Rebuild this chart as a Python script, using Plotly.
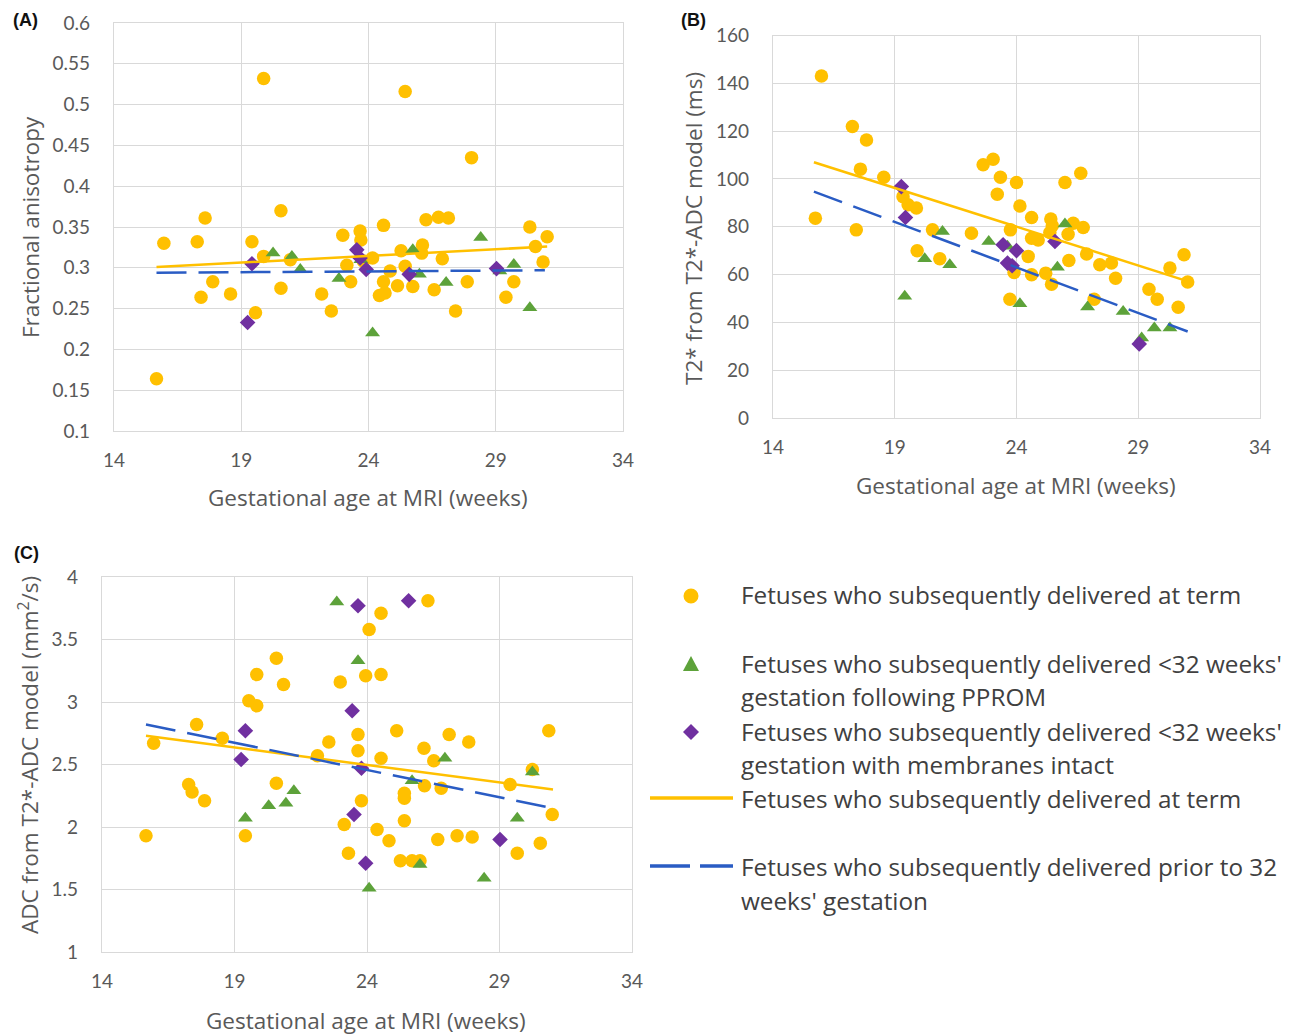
import plotly.graph_objects as go

W, H = 1295, 1035

# ---------------- Data ----------------
week_ticks = [14, 19, 24, 29, 34]
week_labels = ["14", "19", "24", "29", "34"]

# Panel A: fractional anisotropy
fa_term_x = [19.88, 25.44, 28.05, 20.56, 17.58, 24.59, 26.26, 26.75, 27.14, 30.34, 31.02, 30.56, 30.86, 15.96, 17.27,
             19.42, 19.88, 20.93, 22.99, 23.67, 23.70, 24.16, 23.15, 23.30, 23.80, 25.28, 26.12, 26.09, 25.44, 24.85,
             24.59, 24.43, 24.65, 25.14, 25.74, 26.58, 26.90, 27.88, 27.42, 29.71, 29.40, 17.88, 17.42, 18.58, 20.56,
             19.56, 22.16, 22.54, 15.67]
fa_term_y = [0.532, 0.516, 0.435, 0.370, 0.361, 0.352, 0.359, 0.362, 0.361, 0.350, 0.338, 0.326, 0.307, 0.330, 0.332,
             0.332, 0.314, 0.310, 0.340, 0.345, 0.334, 0.312, 0.303, 0.283, 0.308, 0.321, 0.328, 0.318, 0.302, 0.296,
             0.283, 0.266, 0.269, 0.278, 0.277, 0.273, 0.311, 0.283, 0.247, 0.283, 0.264, 0.283, 0.264, 0.268, 0.275,
             0.245, 0.268, 0.247, 0.164]
fa_pprom_x = [20.25, 20.99, 21.32, 22.84, 23.70, 25.74, 26.00, 27.05, 28.41, 29.71, 29.16, 30.34, 24.16]
fa_pprom_y = [0.318, 0.314, 0.298, 0.287, 0.310, 0.322, 0.292, 0.282, 0.337, 0.304, 0.296, 0.251, 0.220]
fa_intact_x = [19.42, 19.25, 23.54, 23.67, 23.91, 25.60, 29.03]
fa_intact_y = [0.305, 0.233, 0.322, 0.312, 0.298, 0.292, 0.299]
fa_trend_term_x = [15.67, 31.02]
fa_trend_term_y = [0.301, 0.326]
fa_trend_pre_x = [15.67, 30.93]
fa_trend_pre_y = [0.294, 0.297]
fa_ticks = [0.1, 0.15, 0.2, 0.25, 0.3, 0.35, 0.4, 0.45, 0.5, 0.55, 0.6]
fa_tick_labels = ["0.1", "0.15", "0.2", "0.25", "0.3", "0.35", "0.4", "0.45", "0.5", "0.55", "0.6"]

# Panel B: T2*
t2_term_x = [15.99, 17.26, 17.84, 17.59, 18.55, 15.74, 17.42, 19.34, 19.55, 19.89, 20.55, 22.15, 19.92, 20.85, 22.63,
             23.04, 23.34, 23.21, 24.00, 24.14, 24.62, 23.75, 25.41, 25.47, 25.37, 24.62, 24.89, 25.99, 26.64, 26.33,
             26.74, 26.12, 24.48, 23.90, 24.62, 25.20, 25.44, 26.15, 26.88, 27.42, 27.90, 28.07, 23.73, 27.19, 29.44,
             29.78, 30.30, 30.88, 31.03, 30.64]
t2_term_y = [143.1, 121.9, 116.3, 104.1, 100.7, 83.6, 78.7, 92.6, 89.2, 87.8, 78.7, 77.3, 70.0, 66.6, 105.9,
             108.2, 100.7, 93.6, 98.5, 88.7, 83.9, 78.7, 83.2, 80.4, 77.6, 75.2, 74.5, 98.5, 102.4, 81.5,
             79.7, 76.9, 67.6, 60.9, 59.9, 60.6, 56.0, 65.9, 68.6, 64.1, 64.8, 58.5, 49.7, 49.7, 53.9,
             49.7, 62.7, 68.3, 56.9, 46.3]
t2_pprom_x = [20.96, 20.23, 21.26, 19.41, 22.86, 23.63, 24.14, 25.68, 25.99, 26.92, 28.38, 29.14, 29.66, 30.30]
t2_pprom_y = [78.0, 66.6, 64.1, 50.9, 73.8, 71.8, 47.8, 63.1, 81.2, 46.4, 44.6, 33.5, 37.6, 37.6]
t2_intact_x = [19.27, 19.44, 23.45, 24.00, 23.63, 23.82, 25.58, 29.04]
t2_intact_y = [96.8, 83.9, 72.5, 70.0, 64.8, 63.7, 73.8, 31.0]
t2_trend_term_x = [15.68, 30.85]
t2_trend_term_y = [107.0, 57.8]
t2_trend_pre_x = [15.68, 31.03]
t2_trend_pre_y = [94.7, 36.2]
t2_ticks = [0, 20, 40, 60, 80, 100, 120, 140, 160]
t2_tick_labels = ["0", "20", "40", "60", "80", "100", "120", "140", "160"]

# Panel C: ADC
adc_term_x = [26.30, 24.53, 24.08, 20.58, 19.84, 20.85, 22.99, 23.95, 24.53, 19.54, 19.84, 17.57, 18.54, 15.95, 22.56,
              22.13, 23.66, 23.66, 25.12, 24.53, 26.15, 26.52, 27.10, 27.84, 30.86, 30.24, 29.40, 26.17, 26.80, 25.41,
              25.41, 30.99, 20.58, 17.27, 17.40, 17.87, 23.79, 25.41, 23.14, 24.38, 24.83, 26.67, 27.40, 27.97, 30.54,
              29.67, 15.66, 19.41, 23.30, 25.26, 25.70, 26.00]
adc_term_y = [3.81, 3.71, 3.58, 3.35, 3.22, 3.14, 3.16, 3.21, 3.22, 3.01, 2.97, 2.82, 2.71, 2.67, 2.68,
              2.57, 2.74, 2.61, 2.77, 2.55, 2.63, 2.53, 2.74, 2.68, 2.77, 2.46, 2.34, 2.33, 2.31, 2.27,
              2.23, 2.10, 2.35, 2.34, 2.28, 2.21, 2.21, 2.05, 2.02, 1.98, 1.89, 1.90, 1.93, 1.92, 1.87,
              1.79, 1.93, 1.93, 1.79, 1.73, 1.73, 1.73]
adc_pprom_x = [22.86, 23.66, 26.94, 30.24, 25.70, 21.24, 20.29, 20.94, 19.41, 29.67, 26.00, 28.42, 24.08]
adc_pprom_y = [3.80, 3.33, 2.55, 2.44, 2.37, 2.29, 2.17, 2.19, 2.07, 2.07, 1.70, 1.59, 1.51]
adc_intact_x = [23.66, 25.57, 23.44, 19.41, 19.25, 23.79, 23.51, 23.95, 29.02]
adc_intact_y = [3.77, 3.81, 2.93, 2.77, 2.54, 2.47, 2.10, 1.71, 1.90]
adc_trend_term_x = [15.66, 31.02]
adc_trend_term_y = [2.73, 2.30]
adc_trend_pre_x = [15.66, 31.02]
adc_trend_pre_y = [2.82, 2.15]
adc_ticks = [1, 1.5, 2, 2.5, 3, 3.5, 4]
adc_tick_labels = ["1", "1.5", "2", "2.5", "3", "3.5", "4"]

legend_labels = [
    ["Fetuses who subsequently delivered at term"],
    ["Fetuses who subsequently delivered <32 weeks'", "gestation following PPROM"],
    ["Fetuses who subsequently delivered <32 weeks'", "gestation with membranes intact"],
    ["Fetuses who subsequently delivered at term"],
    ["Fetuses who subsequently delivered prior to 32", "weeks' gestation"],
]

# ---------------- Styles ----------------
ORANGE = "#FFC000"
GREEN = "#5DA23A"
PURPLE = "#7030A0"
BLUE = "#2A5CC4"
GRID = "#D9D9D9"
TXT = "#595959"
TICKFONT = "Lato"
FONT = "Open Sans"


def px(x):
    return x / W


def py(y):
    return 1 - y / H


fig = go.Figure()

panels = [
    ("x", "y", fa_term_x, fa_term_y, fa_pprom_x, fa_pprom_y, fa_intact_x, fa_intact_y,
     fa_trend_term_x, fa_trend_term_y, fa_trend_pre_x, fa_trend_pre_y),
    ("x2", "y2", t2_term_x, t2_term_y, t2_pprom_x, t2_pprom_y, t2_intact_x, t2_intact_y,
     t2_trend_term_x, t2_trend_term_y, t2_trend_pre_x, t2_trend_pre_y),
    ("x3", "y3", adc_term_x, adc_term_y, adc_pprom_x, adc_pprom_y, adc_intact_x, adc_intact_y,
     adc_trend_term_x, adc_trend_term_y, adc_trend_pre_x, adc_trend_pre_y),
]

for (xa, ya, tx, ty, gx, gy, ix, iy, ttx, tty, tpx, tpy) in panels:
    fig.add_trace(go.Scatter(x=tx, y=ty, xaxis=xa, yaxis=ya, mode="markers", showlegend=False,
                             name=legend_labels[0][0],
                             marker=dict(symbol="circle", size=13.5, color=ORANGE)))
    fig.add_trace(go.Scatter(x=gx, y=gy, xaxis=xa, yaxis=ya, mode="markers", showlegend=False,
                             name="PPROM",
                             marker=dict(symbol="triangle-up", size=13, color=GREEN)))
    fig.add_trace(go.Scatter(x=ix, y=iy, xaxis=xa, yaxis=ya, mode="markers", showlegend=False,
                             name="membranes intact",
                             marker=dict(symbol="diamond", size=12, color=PURPLE)))
    fig.add_trace(go.Scatter(x=ttx, y=tty, xaxis=xa, yaxis=ya, mode="lines", showlegend=False,
                             name="term trend", line=dict(color=ORANGE, width=2.5)))
    fig.add_trace(go.Scatter(x=tpx, y=tpy, xaxis=xa, yaxis=ya, mode="lines", showlegend=False,
                             name="preterm trend", line=dict(color=BLUE, width=2.5, dash="30px,12px")))


def xaxis_cfg(x0, x1, anchor):
    return dict(domain=[px(x0), px(x1)], range=[14, 34], tickvals=week_ticks, ticktext=week_labels,
                showgrid=True, gridcolor=GRID, gridwidth=1, showline=True, linecolor=GRID, linewidth=1.3,
                mirror=True, zeroline=False, ticks="outside", ticklen=12, tickcolor="rgba(0,0,0,0)",
                tickfont=dict(family=TICKFONT, size=19, color=TXT), anchor=anchor, automargin=False,
                fixedrange=True)


def yaxis_cfg(y_top, y_bot, rng, vals, labels, anchor):
    return dict(domain=[py(y_bot), py(y_top)], range=rng, tickvals=vals, ticktext=labels,
                showgrid=True, gridcolor=GRID, gridwidth=1, showline=True, linecolor=GRID, linewidth=1.3,
                mirror=True, zeroline=False, ticks="outside", ticklen=19, tickcolor="rgba(0,0,0,0)",
                tickfont=dict(family=TICKFONT, size=19, color=TXT), anchor=anchor, automargin=False,
                fixedrange=True)


fig.update_layout(
    width=W, height=H,
    margin=dict(l=0, r=0, t=0, b=0),
    paper_bgcolor="white", plot_bgcolor="white",
    showlegend=False,
    xaxis=xaxis_cfg(114, 623, "y"),
    yaxis=yaxis_cfg(23, 431, [0.1, 0.6], fa_ticks, fa_tick_labels, "x"),
    xaxis2=xaxis_cfg(773, 1260, "y2"),
    yaxis2=yaxis_cfg(35.5, 418, [0, 160], t2_ticks, t2_tick_labels, "x2"),
    xaxis3=xaxis_cfg(102, 632, "y3"),
    yaxis3=yaxis_cfg(577, 952, [1, 4], adc_ticks, adc_tick_labels, "x3"),
)

annotations = []


def ann(text, x, y, size=22.5, color=TXT, angle=0, xanchor="center", bold=False, family=FONT):
    annotations.append(dict(text=("<b>%s</b>" % text) if bold else text, x=px(x), y=py(y),
                            xref="paper", yref="paper", showarrow=False, textangle=angle,
                            xanchor=xanchor, yanchor="middle",
                            font=dict(family=family, size=size, color=color)))


# Axis titles
ann("Gestational age at MRI (weeks)", 368, 498)
ann("Fractional anisotropy", 30, 227, angle=-90)
ann("Gestational age at MRI (weeks)", 1016, 486)
ann("T2* from T2*-ADC model (ms)", 693, 229, angle=-90)
ann("Gestational age at MRI (weeks)", 366, 1020)
ann("ADC from T2*-ADC model (mm<sup>2</sup>/s)", 28, 755, angle=-90)

# Panel labels
ann("(A)", 25, 20, size=18, color="#111111", bold=True, family="Liberation Sans")
ann("(B)", 693, 20, size=18, color="#111111", bold=True, family="Liberation Sans")
ann("(C)", 26, 553, size=18, color="#111111", bold=True, family="Liberation Sans")

# Legend text
leg_rows = [[594], [663, 696], [731, 764], [798], [866, 900]]
for lines, ys in zip(legend_labels, leg_rows):
    for t, yy in zip(lines, ys):
        ann(t, 739, yy, size=24.3, color="#404040", xanchor="left")

fig.update_layout(annotations=annotations)

# Legend symbols
shapes = [
    dict(type="circle", xref="paper", yref="paper", x0=px(683.5), x1=px(698.5), y0=py(603.5), y1=py(588.5),
         fillcolor=ORANGE, line=dict(width=0)),
    dict(type="path", xref="paper", yref="paper",
         path="M %f,%f L %f,%f L %f,%f Z" % (px(683), py(671), px(699), py(671), px(691), py(656)),
         fillcolor=GREEN, line=dict(width=0)),
    dict(type="path", xref="paper", yref="paper",
         path="M %f,%f L %f,%f L %f,%f L %f,%f Z" % (px(691), py(724), px(699), py(732), px(691), py(740),
                                                      px(683), py(732)),
         fillcolor=PURPLE, line=dict(width=0)),
    dict(type="line", xref="paper", yref="paper", x0=px(650), x1=px(733), y0=py(798), y1=py(798),
         line=dict(color=ORANGE, width=3.5)),
    dict(type="line", xref="paper", yref="paper", x0=px(650), x1=px(733), y0=py(866), y1=py(866),
         line=dict(color=BLUE, width=3.5, dash="40px,10px")),
]
fig.update_layout(shapes=shapes)

fig.write_html("out.html")
